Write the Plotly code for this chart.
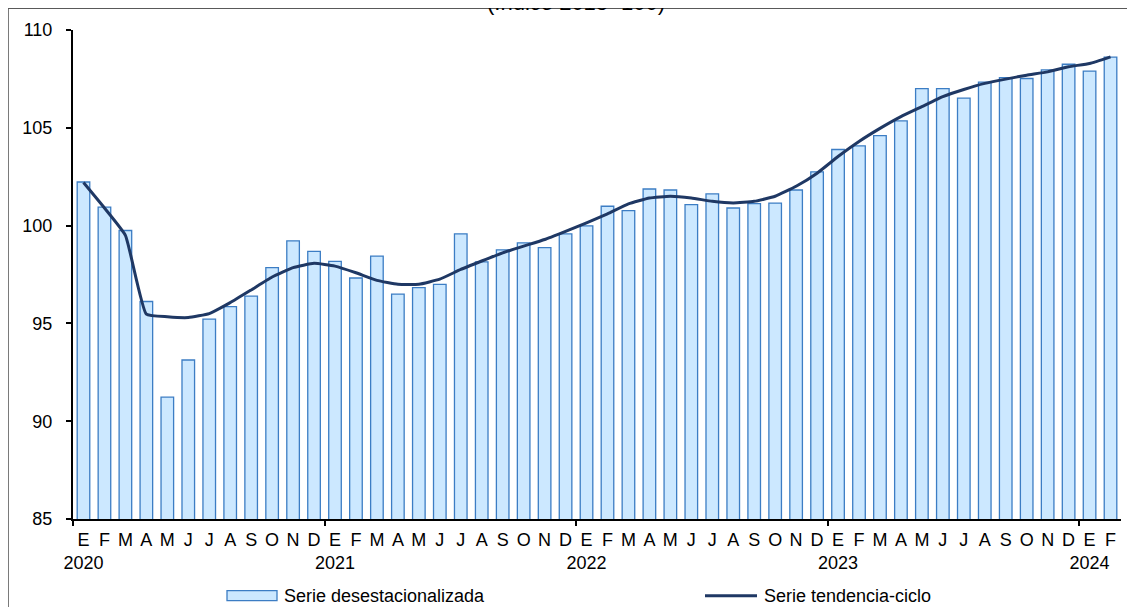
import plotly.graph_objects as go

months = ["E", "F", "M", "A", "M", "J", "J", "A", "S", "O", "N", "D"]
years = ["2020", "2021", "2022", "2023", "2024"]
n_months = 50

desestacionalizada = [102.23, 100.94, 99.75, 96.12, 91.23, 93.13, 95.22, 95.86, 96.39, 97.85, 99.22, 98.68,
                      98.17, 97.32, 98.44, 96.50, 96.83, 97.00, 99.58, 98.15, 98.76, 99.12, 98.87, 99.58,
                      99.99, 100.99, 100.77, 101.87, 101.82, 101.07, 101.62, 100.90, 101.12, 101.15, 101.82, 102.75,
                      103.89, 104.08, 104.60, 105.35, 107.00, 107.00, 106.52, 107.34, 107.57, 107.52, 107.96, 108.25,
                      107.90, 108.61]

tendencia = [102.20, 100.90, 99.50, 95.47, 95.34, 95.30, 95.50, 96.06, 96.71, 97.37, 97.85, 98.07,
             97.93, 97.59, 97.20, 97.00, 97.00, 97.26, 97.76, 98.19, 98.61, 98.95, 99.29, 99.71,
             100.14, 100.60, 101.11, 101.41, 101.50, 101.41, 101.24, 101.16, 101.24, 101.50, 102.01, 102.68,
             103.53, 104.30, 104.97, 105.57, 106.08, 106.59, 106.96, 107.27, 107.49, 107.69, 107.86, 108.12,
             108.29, 108.63]

title_text = "(Índice 2018=100)"
legend_bar = "Serie desestacionalizada"
legend_line = "Serie tendencia-ciclo"

x = list(range(n_months))
ticktext = []
for i in x:
    m = months[i % 12]
    if i % 12 == 0:
        ticktext.append(m + "<br>" + years[i // 12])
    else:
        ticktext.append(m)
year_ticks = [-0.5] + [i - 0.5 for i in x if i % 12 == 0 and i > 0]

FONT = "Liberation Sans, Arial, sans-serif"
BAR_FILL = "#CCE8FF"
BAR_EDGE = "#3C7DC4"
LINE_COL = "#1F3864"

fig = go.Figure()
fig.add_trace(go.Bar(x=x, y=desestacionalizada, name=legend_bar,
                     marker=dict(color=BAR_FILL, line=dict(color=BAR_EDGE, width=1.3)),
                     width=0.6, showlegend=False))
fig.add_trace(go.Scatter(x=x, y=tendencia, name=legend_line, mode="lines",
                         line=dict(color=LINE_COL, width=3, shape="spline", smoothing=0.4),
                         showlegend=False))
# invisible trace for overlay axis with year ticks
fig.add_trace(go.Scatter(x=[x[0]], y=[desestacionalizada[0]], xaxis="x2", mode="markers",
                         marker=dict(opacity=0), showlegend=False, hoverinfo="skip"))

# page body has an 8px default margin: plot area placed so that it lands at
# screen x 73..1121, y 28..519
fig.update_layout(
    width=1135, height=607,
    margin=dict(l=65, r=22, t=20, b=96),
    paper_bgcolor="white", plot_bgcolor="white",
    font=dict(family=FONT, size=18, color="black"),
    bargap=0.4,
    xaxis=dict(range=[-0.5, n_months - 0.5], tickmode="array", tickvals=x, ticktext=ticktext,
               ticks="", showline=True, linecolor="black", linewidth=2, showgrid=False,
               zeroline=False, tickfont=dict(size=18), tickangle=0, ticklabelstandoff=3),
    xaxis2=dict(range=[-0.5, n_months - 0.5], overlaying="x", anchor="y", side="bottom",
                tickmode="array", tickvals=year_ticks, ticks="outside", ticklen=6, tickwidth=2,
                tickcolor="black", showticklabels=False, showline=False, showgrid=False, zeroline=False),
    yaxis=dict(range=[85, 110], dtick=5, tick0=85, ticks="outside", ticklen=5, tickwidth=2,
               tickcolor="black", showline=True, linecolor="black", linewidth=2, showgrid=False,
               zeroline=False, tickfont=dict(size=18), ticklabelstandoff=10),
)


def px_x(p):
    return (p - 73) / 1048.0


def px_y(p):
    return (519 - p) / 491.0


# frame
fig.add_shape(type="rect", xref="paper", yref="paper", x0=px_x(8), x1=px_x(1140), y0=px_y(615), y1=px_y(6),
              line=dict(color="#595959", width=1.6), layer="below")

# title (partly cut off at top as in reference)
fig.add_annotation(text=title_text, xref="paper", yref="paper", x=px_x(576), y=px_y(0),
                   xanchor="center", yanchor="middle", showarrow=False,
                   font=dict(family=FONT, size=22, color="black"))

# legend (manual)
fig.add_shape(type="rect", xref="paper", yref="paper", x0=px_x(227), x1=px_x(277),
              y0=px_y(601), y1=px_y(591), fillcolor=BAR_FILL, line=dict(color=BAR_EDGE, width=1.3))
fig.add_annotation(text=legend_bar, xref="paper", yref="paper", x=px_x(282), y=px_y(596),
                   xanchor="left", yanchor="middle", showarrow=False, font=dict(size=18))
fig.add_shape(type="line", xref="paper", yref="paper", x0=px_x(705), x1=px_x(757),
              y0=px_y(596), y1=px_y(596), line=dict(color=LINE_COL, width=3))
fig.add_annotation(text=legend_line, xref="paper", yref="paper", x=px_x(762), y=px_y(596),
                   xanchor="left", yanchor="middle", showarrow=False, font=dict(size=18))

fig.write_html("out.html")
